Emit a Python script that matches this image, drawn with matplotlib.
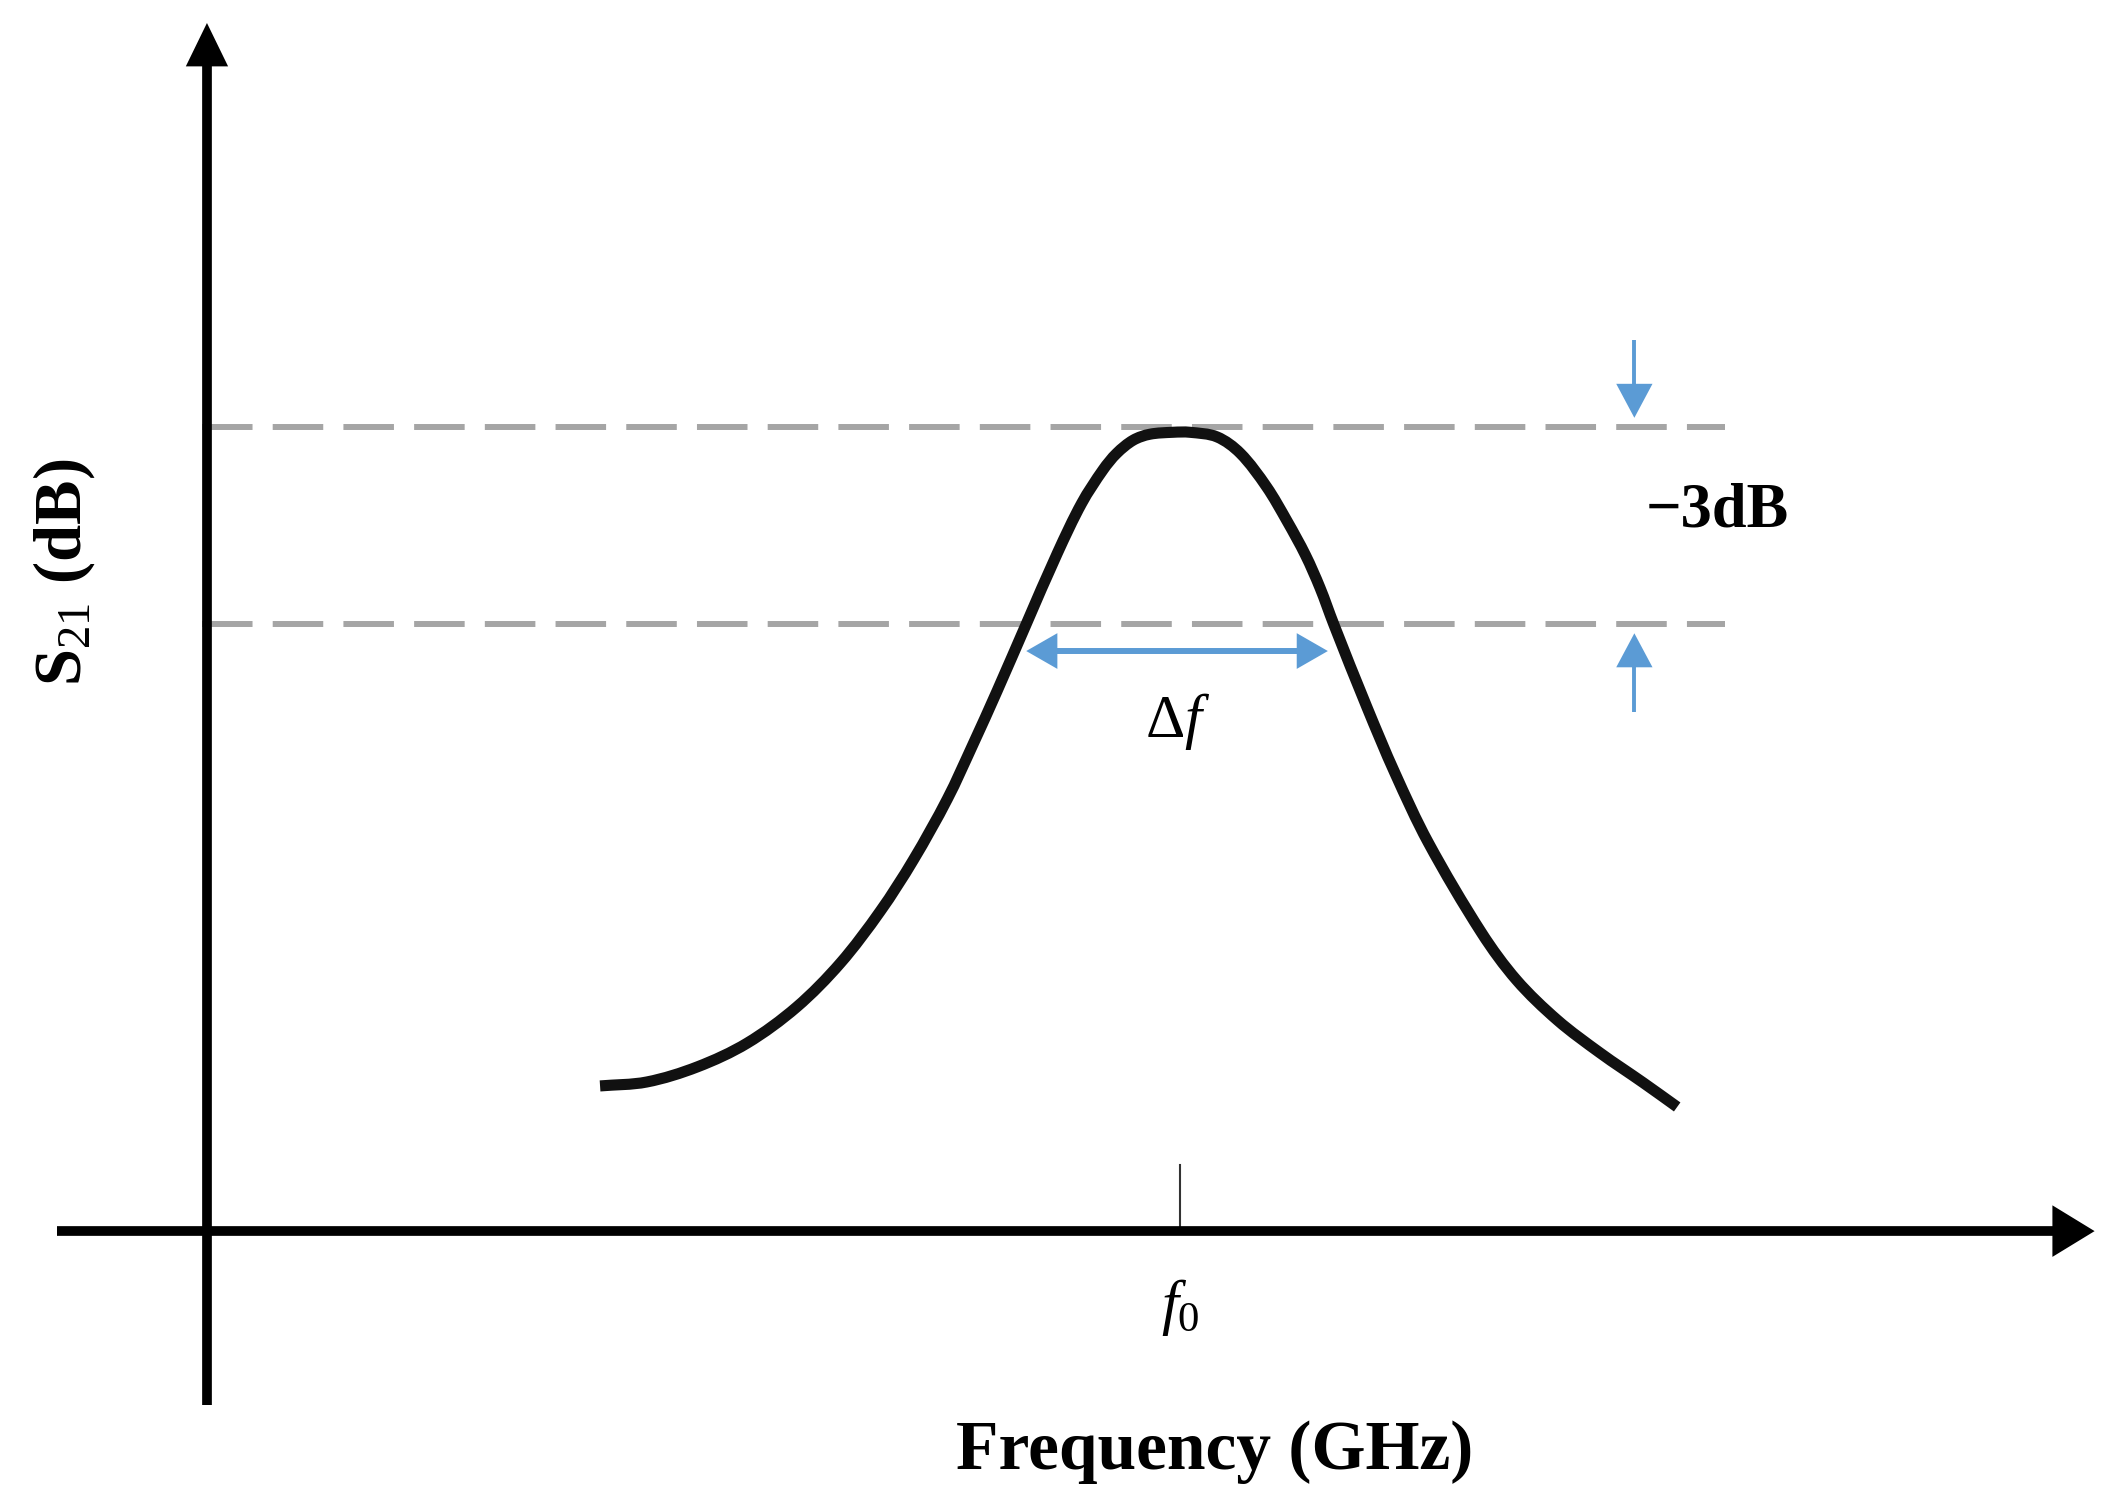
import matplotlib
matplotlib.use('Agg')
import matplotlib.pyplot as plt
from matplotlib.path import Path
from matplotlib.patches import PathPatch

# fonts: Times-like serif everywhere, mathtext too
plt.rcParams['font.family'] = ['Liberation Serif', 'DejaVu Serif']
plt.rcParams['mathtext.fontset'] = 'custom'
plt.rcParams['mathtext.rm'] = 'Liberation Serif'
plt.rcParams['mathtext.it'] = 'Liberation Serif:italic'
plt.rcParams['mathtext.bf'] = 'Liberation Serif:bold'

# S21 response (peak ~ 0 dB, f0 = 10)
freq = [4.04, 4.52, 5.04, 5.55, 6.06, 6.51, 6.92, 7.26, 7.61, 7.87, 8.12, 8.42,
        8.74, 8.99, 9.21, 9.35, 9.52, 9.69, 9.93, 10.10, 10.38, 10.62, 10.89,
        11.10, 11.29, 11.44, 11.58, 11.92, 12.21, 12.55, 13.10, 13.46, 13.88, 14.32,
        14.76, 15.11]
s21 = [-10.03, -9.97, -9.74, -9.38, -8.83, -8.16, -7.37, -6.59, -5.66, -4.84, -4.02, -3.00,
       -1.92, -1.16, -0.65, -0.40, -0.20, -0.11, -0.08, -0.08, -0.15, -0.40, -0.91,
       -1.43, -1.95, -2.45, -3.00, -4.26, -5.27, -6.32, -7.70, -8.42, -9.03, -9.53,
       -9.98, -10.35]

f0 = 10.0
peak_level = 0.0
level_3db = -3.0
f_low, f_high = 8.42, 11.52

grey = '#a5a5a5'
blue = '#5b9bd5'

XMIN, XMAX = -2.127, 19.548
YMIN, YMAX = -16.47, 6.50
PX_X = 2109 / (XMAX - XMIN)
PX_Y = 1509 / (YMAX - YMIN)

fig = plt.figure(figsize=(21.09, 15.09), dpi=100)
ax = fig.add_axes([0, 0, 1, 1])
ax.set_xlim(XMIN, XMAX)
ax.set_ylim(YMIN, YMAX)
ax.axis('off')


def head(x0, y0, x1, y1, color, length, width, z):
    # filled triangle head at (x1, y1); length along shaft and full width in pixels
    hw = width / 2.0
    L = (length ** 2 + hw ** 2) ** 0.5
    W = L * hw / length
    ax.annotate('', xy=(x1, y1), xytext=(x0, y0),
                arrowprops=dict(arrowstyle='-|>,head_length=%.3f,head_width=%.3f' % (L * 0.72, W * 0.72),
                                mutation_scale=1, lw=0, color=color, shrinkA=0, shrinkB=0), zorder=z)


def arrow(x0, y0, x1, y1, lw, color, length, width, z, both=False):
    # axis aligned arrow: shaft stops inside the head
    sx, sy = x0, y0
    ex, ey = x1, y1
    if y0 == y1:
        d = 1 if x1 > x0 else -1
        ex = x1 - d * length * 0.6 / PX_X
        if both:
            sx = x0 + d * length * 0.6 / PX_X
    else:
        d = 1 if y1 > y0 else -1
        ey = y1 - d * length * 0.6 / PX_Y
        if both:
            sy = y0 + d * length * 0.6 / PX_Y
    ax.plot([sx, ex], [sy, ey], color=color, lw=lw, solid_capstyle='butt', zorder=z)
    head(x0, y0, x1, y1, color, length, width, z)
    if both:
        head(x1, y1, x0, y0, color, length, width, z)


# axes drawn by hand as arrows
x_axis_y = -12.24
arrow(-1.54, x_axis_y, 19.40, x_axis_y, 7, 'black', 36, 44, 5)
arrow(0, -14.89, 0, 6.15, 7, 'black', 39, 38, 5)

# reference levels
for lev in [peak_level, level_3db]:
    ax.plot([-0.05, 15.60], [lev, lev], color=grey, lw=4.3, dashes=(8.46, 3.38),
            dash_capstyle='butt', zorder=1)

# response curve: cubic bezier through the read points,
# tangents scaled by chord length (measured on screen) so uneven spacing stays smooth
n = len(freq)
seg = []
for i in range(n - 1):
    dx = (freq[i + 1] - freq[i]) * PX_X
    dy = (s21[i + 1] - s21[i]) * PX_Y
    seg.append((dx * dx + dy * dy) ** 0.5)
tang = []
for i in range(n):
    a = max(i - 1, 0)
    b = min(i + 1, n - 1)
    span = sum(seg[a:b])
    tang.append(((freq[b] - freq[a]) / span, (s21[b] - s21[a]) / span))
verts = [(freq[0], s21[0])]
codes = [Path.MOVETO]
for i in range(n - 1):
    d = seg[i] / 3
    c1 = (freq[i] + tang[i][0] * d, s21[i] + tang[i][1] * d)
    c2 = (freq[i + 1] - tang[i + 1][0] * d, s21[i + 1] - tang[i + 1][1] * d)
    verts += [c1, c2, (freq[i + 1], s21[i + 1])]
    codes += [Path.CURVE4] * 3
ax.add_patch(PathPatch(Path(verts, codes), fill=False, edgecolor='#111111', lw=8,
                       capstyle='butt', joinstyle='round', zorder=3))

# f0 tick
ax.plot([f0, f0], [-11.23, x_axis_y], color='#333333', lw=1.5, zorder=4)

# bandwidth arrow
arrow(f_low, -3.41, f_high, -3.41, 4.3, blue, 27, 31, 4, both=True)

# -3 dB markers on the right
arrow(14.67, 1.32, 14.67, 0.14, 2.8, blue, 30, 32, 4)
arrow(14.67, -4.34, 14.67, -3.14, 2.8, blue, 30, 32, 4)

# labels
ax.text(15.52, -1.29, '\u22123dB', fontsize=45, fontweight='bold', ha='center', va='center')
ax.text(9.98, -4.49, r'$\mathrm{\Delta}f$', fontsize=44, ha='center', va='center')
ax.text(f0, -13.41, r'$f_0$', fontsize=44, ha='center', va='center')
ax.text(10.36, -15.60, 'Frequency (GHz)', fontsize=50, fontweight='bold', ha='center', va='center')
ax.text(-1.47, -2.21, r'$\mathbf{S}_{\mathrm{21}}$ (dB)', fontsize=48, fontweight='bold',
        rotation=90, ha='center', va='center')

plt.savefig('out.png', dpi=100)
